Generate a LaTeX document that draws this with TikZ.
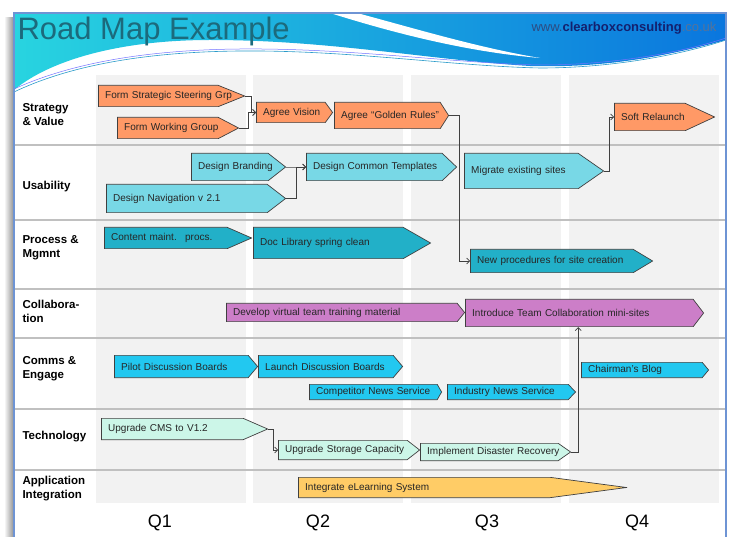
\documentclass[tikz,border=0pt]{standalone}
\usepackage{fontspec}
\setmainfont{Liberation Sans}
\usetikzlibrary{arrows.meta}

\definecolor{strategy}{RGB}{255,153,102}
\definecolor{usability}{RGB}{120,216,230}
\definecolor{process}{RGB}{34,176,200}
\definecolor{collab}{RGB}{204,126,200}
\definecolor{comms}{RGB}{34,200,240}
\definecolor{techno}{RGB}{204,246,232}
\definecolor{appint}{RGB}{255,204,102}
\definecolor{quartergray}{RGB}{242,242,242}
\definecolor{rowline}{RGB}{192,192,192}
\definecolor{frameblue}{RGB}{110,148,212}
\definecolor{edgegray}{RGB}{64,64,64}
\definecolor{headcyan}{RGB}{40,212,224}
\definecolor{headblue}{RGB}{10,118,222}
\definecolor{titleteal}{RGB}{28,106,124}
\definecolor{webgray}{RGB}{45,75,130}
\definecolor{webnavy}{RGB}{20,32,110}
\definecolor{weblight}{RGB}{85,115,155}

\tikzset{
  task/.style n args={3}{rectangle, anchor=west, inner xsep=7pt, inner ysep=0pt,
    text width=#3pt, align=left, font=\fontsize{10}{12}\selectfont, text=black!85,
    path picture={\filldraw[fill=#1, draw=edgegray, line width=0.7pt]
      ([shift={(0.35pt,-0.35pt)}]path picture bounding box.north west)
      -- ([shift={(-#2pt,-0.35pt)}]path picture bounding box.north east)
      -- ([xshift=-0.6pt]path picture bounding box.east)
      -- ([shift={(-#2pt,0.35pt)}]path picture bounding box.south east)
      -- ([shift={(0.35pt,0.35pt)}]path picture bounding box.south west) -- cycle;}},
  rowlabel/.style={anchor=west, align=left, font=\bfseries\fontsize{11.5}{14}\selectfont},
  quarter/.style={font=\fontsize{18}{20}\selectfont},
  link/.style={draw=edgegray, line width=0.7pt, -{Straight Barb[length=3pt,width=6pt]}}
}

\begin{document}
\begin{tikzpicture}[x=1pt,y=-1pt]
\useasboundingbox (0,0) rectangle (731,537);

% slide frame and header
\shade[left color=white, right color=black!40] (4,18) rectangle (13,537);
\shade[left color=headcyan, right color=headblue]
  (14,13) -- (726,13) -- (726,40)
  .. controls (660,58) and (600,68) .. (530,66)
  .. controls (430,60) and (330,40) .. (210,40)
  .. controls (120,40) and (50,60) .. (14,90) -- cycle;
\fill[white] (330,13) -- (357,13) .. controls (420,30) and (480,48) .. (540,58)
  .. controls (470,52) and (400,35) .. (330,13) -- cycle;
\draw[cyan!60!teal, line width=0.6pt] (14,92) .. controls (60,70) and (130,52) .. (240,51)
  .. controls (350,50) and (450,66) .. (540,68) .. controls (620,68) and (690,52) .. (726,40);
\draw[blue!55, line width=0.5pt] (14,89) .. controls (60,68) and (130,50) .. (240,49)
  .. controls (350,48) and (450,63) .. (540,65) .. controls (620,65) and (690,50) .. (726,38);
\draw[frameblue, line width=2pt] (14,537) -- (14,13) -- (726,13) -- (726,537);

\node[anchor=base west, text=titleteal, font=\fontsize{31}{34}\selectfont] (title) at (14,40) {Road Map Example};
\node[anchor=base east, font=\fontsize{13}{15}\selectfont] (web) at (720,32)
  {\textcolor{webgray}{www.}\textcolor{webnavy}{\bfseries clearboxconsulting}\textcolor{weblight}{.co.uk}};

% quarters and rows
\foreach \x in {96,253,411,569}
  \fill[quartergray] (\x,75) rectangle ++(150,428);
\foreach \y in {145,220,289,338,409,470}
  \draw[rowline, line width=2pt] (15,\y) -- (725,\y);

\node[rowlabel] (strat) at (19,115) {Strategy\\\& Value};
\node[rowlabel] (usab) at (19,187) {Usability};
\node[rowlabel] (proc) at (19,247.5) {Process \&\\Mgmnt};
\node[rowlabel] (coll) at (19,311.5) {Collabora-\\tion};
\node[rowlabel] (comm) at (19,369) {Comms \&\\Engage};
\node[rowlabel] (tech) at (19,437) {Technology};
\node[rowlabel] (appl) at (19,489) {Application\\Integration};

\node[quarter] (q1) at (160,523) {Q1};
\node[quarter] (q2) at (318,523) {Q2};
\node[quarter] (q3) at (487,523) {Q3};
\node[quarter] (q4) at (637,523) {Q4};

% strategy & value
\node[task={strategy}{27}{133}, minimum height=22] (steer) at (98,96) {Form Strategic Steering Grp};
\node[task={strategy}{21}{108}, minimum height=22] (working) at (117,128) {Form Working Group};
\node[task={strategy}{8}{63}, minimum height=21] (vision) at (256,112.5) {Agree Vision};
\node[task={strategy}{9}{101}, minimum height=27] (golden) at (334,115.5) {Agree “Golden Rules”};
\node[task={strategy}{30}{87}, minimum height=28] (relaunch) at (614,117) {Soft Relaunch};

% usability
\node[task={usability}{18}{81}, minimum height=28] (branding) at (191,167) {Design Branding};
\node[task={usability}{19}{166}, minimum height=29] (nav) at (106,198.5) {Design Navigation v 2.1};
\node[task={usability}{15}{137}, minimum height=28] (templates) at (306,167) {Design Common Templates};
\node[task={usability}{26}{126}, minimum height=36] (migrate) at (464,171) {Migrate existing sites};

% process
\node[task={process}{25}{134}, minimum height=22] (content) at (104,238) {Content maint.~ procs.};
\node[task={process}{28}{164}, minimum height=32] (doclib) at (253,243) {Doc Library spring clean};
\node[task={process}{20}{169}, minimum height=24] (newproc) at (470,261) {New procedures for site creation};

% collaboration
\node[task={collab}{8}{225}, minimum height=19] (develop) at (226,312.5) {Develop virtual team training material};
\node[task={collab}{11}{225}, minimum height=28] (intro) at (465,313) {Introduce Team Collaboration mini-sites};

% comms
\node[task={comms}{10}{130}, minimum height=23] (pilot) at (114,366.5) {Pilot Discussion Boards};
\node[task={comms}{10}{131}, minimum height=23] (launch) at (258,366.5) {Launch Discussion Boards};
\node[task={comms}{5}{119}, minimum height=16] (competitor) at (309,392) {Competitor News Service};
\node[task={comms}{8}{115}, minimum height=16] (industry) at (447,392) {Industry News Service};
\node[task={comms}{7}{114}, minimum height=16] (blog) at (581,370) {Chairman’s Blog};

% technology
\node[task={techno}{25}{153}, minimum height=22] (cms) at (101,429) {Upgrade CMS to V1.2};
\node[task={techno}{13}{128}, minimum height=20] (storage) at (278,450) {Upgrade Storage Capacity};
\node[task={techno}{13}{137}, minimum height=18] (recovery) at (420,452) {Implement Disaster Recovery};

% application integration
\node[task={appint}{77}{315}, minimum height=21] (elearn) at (298,487.5) {Integrate eLearning System};

% dependencies
\draw[link] (steer.east) -- ++(6,0) |- (vision.west);
\draw[link] (working.east) -- ++(9,0) |- (vision.west);
\draw[link] (golden.east) -- ++(10,0) |- (newproc.west);
\draw[link] (branding.east) -- ++(10,0) |- (templates.west);
\draw[link] (nav.east) -- ++(10,0) |- (templates.west);
\draw[link] (migrate.east) -- ++(5,0) |- (relaunch.west);
\draw[link] (cms.east) -- ++(5,0) |- (storage.west);
\draw[link] (recovery.east) -| ([xshift=-6.5pt]intro.south);
\end{tikzpicture}
\end{document}
